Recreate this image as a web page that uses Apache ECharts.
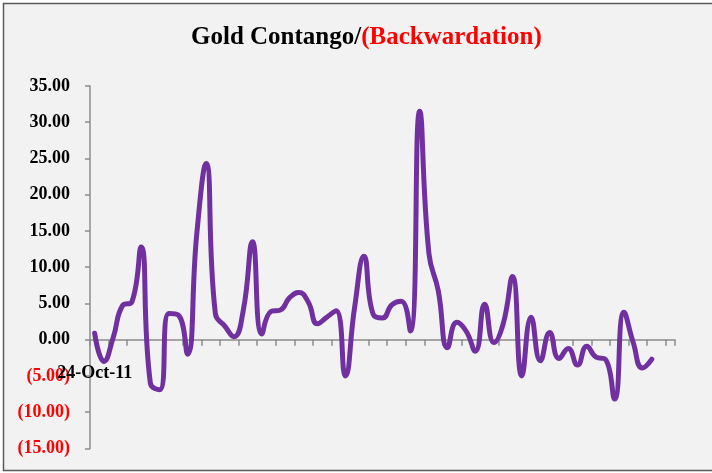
<!DOCTYPE html>
<html>
<head>
<meta charset="utf-8">
<script src="https://cdn.jsdelivr.net/npm/echarts@6/dist/echarts.min.js"></script>
<style>
html,body{margin:0;padding:0;background:#ffffff;}
#c{width:712px;height:473px;}
</style>
</head>
<body>
<div id="c"></div>
<script>
var categories = [
 '24-Oct-11','31-Oct-11','7-Nov-11','14-Nov-11','21-Nov-11','28-Nov-11','5-Dec-11','12-Dec-11','19-Dec-11','26-Dec-11',
 '2-Jan-12','9-Jan-12','16-Jan-12','23-Jan-12','30-Jan-12','6-Feb-12','13-Feb-12','20-Feb-12','27-Feb-12',
 '5-Mar-12','12-Mar-12','19-Mar-12','26-Mar-12','2-Apr-12','9-Apr-12','16-Apr-12','23-Apr-12','30-Apr-12',
 '7-May-12','14-May-12','21-May-12','28-May-12','4-Jun-12','11-Jun-12','18-Jun-12','25-Jun-12',
 '2-Jul-12','9-Jul-12','16-Jul-12','23-Jul-12','30-Jul-12','6-Aug-12','13-Aug-12','20-Aug-12','27-Aug-12',
 '3-Sep-12','10-Sep-12','17-Sep-12','24-Sep-12','1-Oct-12','8-Oct-12','15-Oct-12','22-Oct-12','29-Oct-12',
 '5-Nov-12','12-Nov-12','19-Nov-12','26-Nov-12','3-Dec-12','10-Dec-12','17-Dec-12','24-Dec-12','31-Dec-12'
];
var contango = [
 0.9, -3.0, 0.3, 4.7, 5.2, 12.8, -6.0, -6.9, 3.6, 3.4,
 -2.0, 14.6, 24.3, 3.6, 1.9, 0.4, 4.0, 13.5, 0.8, 3.9,
 4.1, 5.8, 6.5, 5.2, 2.2, 3.1, 4.0, -5.0, 4.5, 11.5,
 3.5, 3.0, 4.8, 5.3, 1.2, 31.5, 11.9, 6.8, -1.1, 2.4,
 1.2, -1.6, 4.9, -0.4, 2.2, 8.7, -5.0, 3.1, -2.9, 1.0,
 -2.6, -1.2, -3.5, -0.9, -2.4, -2.7, -8.2, 3.8, -0.4, -3.9,
 -2.7
];
var yMin = -15, yMax = 35, yStep = 5;

var FONT = '"Liberation Serif", "DejaVu Serif", serif';
var chart = echarts.init(document.getElementById('c'), null, {renderer: 'canvas'});
var frame = {
  type: 'rect', id: 'frame', z: -10, silent: true,
  shape: {x: 3.5, y: 3.5, width: 720, height: 467},
  style: {fill: '#f2f2f2', stroke: '#5a5a5a', lineWidth: 1.5}
};
chart.setOption({
  backgroundColor: '#ffffff',
  animation: false,
  graphic: [frame],
  title: {
    left: 186, top: 20,
    text: '{a|Gold Contango/}{b|(Backwardation)}',
    textStyle: {
      rich: {
        a: {fontFamily: FONT, fontWeight: 'bold', fontSize: 25, color: '#000000'},
        b: {fontFamily: FONT, fontWeight: 'bold', fontSize: 25, color: '#ff0000'}
      }
    }
  },
  grid: {left: 90, right: 37, top: 86, bottom: 24.6, containLabel: false, outerBoundsMode: 'none'},
  xAxis: {
    type: 'category',
    data: categories,
    boundaryGap: true,
    axisLine: {show: true, onZero: true, lineStyle: {color: '#8c8c8c', width: 1.5}},
    axisTick: {show: true, interval: 1, length: 6, lineStyle: {color: '#8c8c8c', width: 1.5}},
    axisLabel: {show: false},
    splitLine: {show: false}
  },
  yAxis: {
    type: 'value',
    min: yMin, max: yMax, interval: yStep,
    axisLine: {show: true, lineStyle: {color: '#8c8c8c', width: 1.5}},
    axisTick: {show: true, length: 5, lineStyle: {color: '#8c8c8c', width: 1.5}},
    splitLine: {show: false},
    axisLabel: {
      margin: 20,
      formatter: function (v) {
        if (v < 0) return '{n|(' + Math.abs(v).toFixed(2) + ')}';
        return '{p|' + v.toFixed(2) + '}';
      },
      rich: {
        p: {fontFamily: FONT, fontWeight: 'bold', fontSize: 18, color: '#000000'},
        n: {fontFamily: FONT, fontWeight: 'bold', fontSize: 18, color: '#ff0000'}
      }
    }
  },
  series: [{
    type: 'line',
    data: contango,
    smooth: 0.5,
    showSymbol: false,
    z: 3,
    lineStyle: {color: '#7030a0', width: 5, cap: 'round', join: 'round'},
    itemStyle: {color: '#7030a0'}
  }]
});
// first category label, placed under the zero line at the first category through the axis scale
var p = chart.convertToPixel({xAxisIndex: 0, yAxisIndex: 0}, [0, 0]);
chart.setOption({
  graphic: [frame, {
    type: 'text', id: 'xlab', z: 5, silent: true,
    x: p[0], y: p[1] + 25,
    style: {
      text: categories[0], fill: '#000000',
      font: 'bold 18px ' + FONT,
      align: 'center', verticalAlign: 'top'
    }
  }]
});
</script>
</body>
</html>
